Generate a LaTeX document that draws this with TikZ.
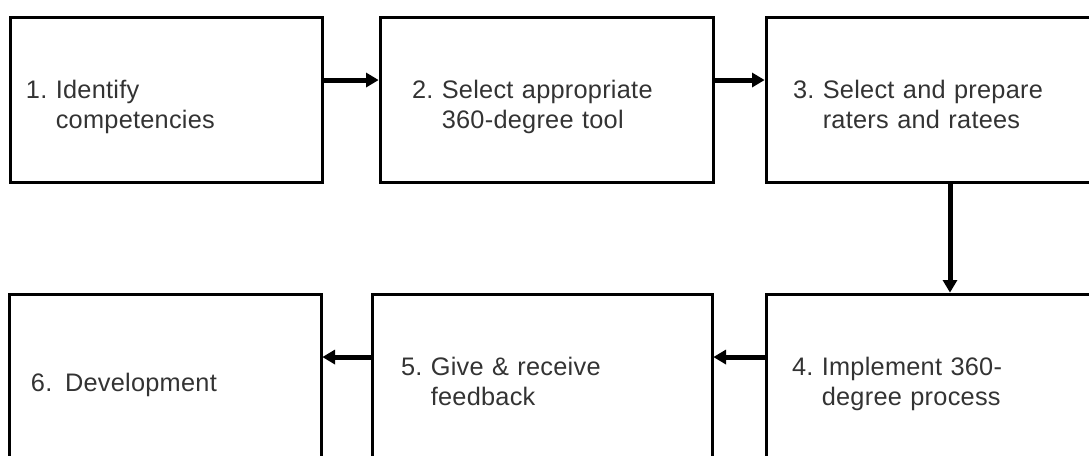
\documentclass[tikz,border=0pt]{standalone}
\usepackage{fontspec}
\setmainfont{Liberation Sans}[LetterSpace=1]
\usetikzlibrary{arrows.meta, positioning}

% text sits a bit below the middle of each box
\newcommand{\steptext}[1]{\raisebox{-6pt}[\height][\depth]{#1}}
% number, first line, second line (hanging indent)
\newcommand{\hangstep}[3]{\steptext{\begin{tabular}{@{}l@{\ }l@{}}#1 & #2\\ & #3\end{tabular}}}

\begin{document}
\begin{tikzpicture}[x=0.75pt,y=0.75pt,>={Triangle[length=9.5pt,width=10.5pt]},
 stepbox/.style={draw,line width=2.25pt,outer sep=0pt,minimum height=123.75pt,
  align=left,text=black!80,font=\fontsize{19}{23}\selectfont},
 flow/.style={->,line width=3.75pt,shorten >=1pt}]

  \useasboundingbox (0,0) rectangle (1089,455);

  % top row
  \node[stepbox,inner xsep=12pt,text width=210pt] (one) at (166,355.5)
    {\hangstep{1.}{Identify}{competencies}};
  \node[stepbox,inner xsep=24pt,text width=201.75pt] (two) [right=43.5pt of one]
    {\hangstep{2.}{Select appropriate}{360-degree tool}};
  \node[stepbox,inner xsep=20.25pt,text width=214.5pt] (three) [right=39.75pt of two]
    {\hangstep{3.}{Select and prepare}{raters and ratees}};

  % bottom row
  \node[stepbox,inner xsep=19.5pt,text width=216pt] (four) [below=84pt of three]
    {\hangstep{4.}{Implement 360-}{degree process}};
  \node[stepbox,inner xsep=21.75pt,text width=211.5pt] (five) [left=40.5pt of four]
    {\hangstep{5.}{Give \& receive}{feedback}};
  \node[stepbox,inner xsep=16.5pt,text width=201pt] (six) [left=38.25pt of five]
    {\steptext{6. Development}};

  \draw[flow] ([yshift=14.6pt]one.east) -- ([yshift=14.6pt]two.west);
  \draw[flow] ([yshift=14.6pt]two.east) -- ([yshift=14.6pt]three.west);
  \draw[flow] ([xshift=10.5pt]three.south) -- ([xshift=10.5pt]four.north);
  \draw[flow] ([yshift=14.6pt]four.west) -- ([yshift=14.6pt]five.east);
  \draw[flow] ([yshift=14.6pt]five.west) -- ([yshift=14.6pt]six.east);
\end{tikzpicture}
\end{document}
